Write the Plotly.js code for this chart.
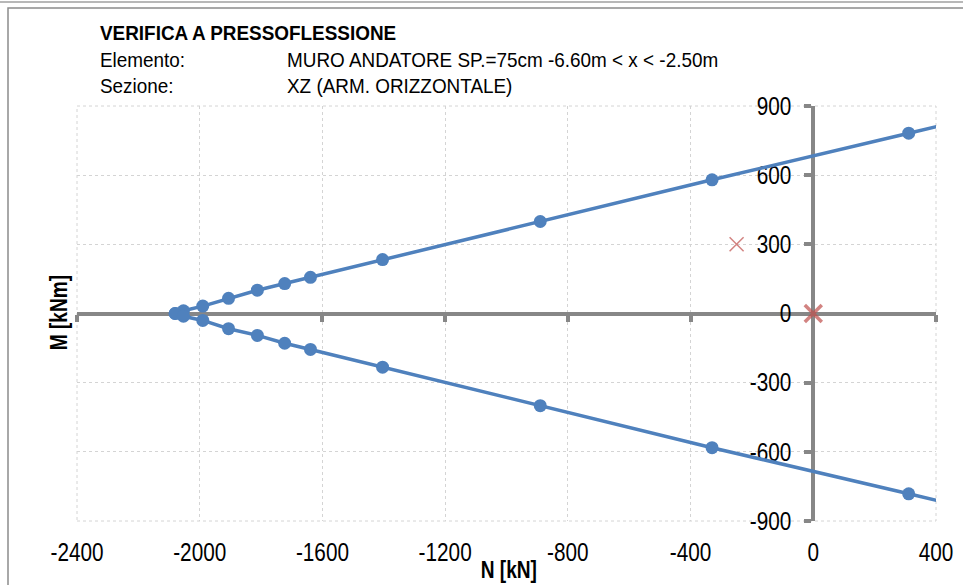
<!DOCTYPE html>
<html><head><meta charset="utf-8">
<script src="https://cdn.plot.ly/plotly-3.0.1.min.js"></script>
<style>html,body{margin:0;padding:0;background:#fff}</style>
</head><body><div id="chart" style="width:963px;height:585px"></div>
<script>
// Interaction domain (N [kN], M [kNm])
const nUpper = [-2080, -2053, -1990, -1906, -1812, -1723, -1639, -1404, -890, -330, 311, 900];
const mUpper = [0, 12, 32, 66, 101, 130, 157, 234, 399, 580, 782, 967];
const nLower = [-2080, -2053, -1990, -1906, -1812, -1723, -1639, -1404, -890, -330, 311, 900];
const mLower = [0, -12, -30, -66, -95, -129, -156, -233, -400, -582, -782, -967];
// Design actions
const nLoads = [-250, 0];
const mLoads = [300, 0];
const xTicks = [-2400, -2000, -1600, -1200, -800, -400, 0, 400];
const yTicks = [-900, -600, -300, 0, 300, 600, 900];

const FONT = '"Liberation Sans", Arial, sans-serif';
const BLUE = '#4F81BD', RED = '#C0504D', AX = '#878787', GRID = '#d4d4d4';
const W = 963, H = 585, L = 77, R = 936, T = 106, B = 521;
const px = x => (x - L) / (R - L);
const py = y => (B - y) / (B - T);

const traces = [
  {x: nUpper, y: mUpper, type: 'scatter', mode: 'lines+markers', cliponaxis: true,
   line: {color: BLUE, width: 3.5}, marker: {color: BLUE, size: 13}, showlegend: false},
  {x: nLower, y: mLower, type: 'scatter', mode: 'lines+markers', cliponaxis: true,
   line: {color: BLUE, width: 3.5}, marker: {color: BLUE, size: 13}, showlegend: false},
  {x: nLoads, y: mLoads, xaxis: 'x2', type: 'scatter', mode: 'markers', cliponaxis: false,
   marker: {symbol: 'x-thin', size: [14, 17], color: RED, line: {color: RED, width: [1.5, 3.5]}}, showlegend: false}
];

const HDR = 21;
const layout = {
  width: W, height: H,
  margin: {l: L, r: W - R, t: T, b: H - B},
  paper_bgcolor: '#fff', plot_bgcolor: '#fff',
  font: {family: FONT, color: '#000', size: 24},
  xaxis: {range: [-2400, 400], tickvals: xTicks, ticktext: xTicks.map(String), showgrid: true,
    gridcolor: GRID, griddash: 'dot', gridwidth: 1, zeroline: false, showline: false, ticks: '',
    ticklabelstandoff: 14, tickfont: {family: FONT, size: 25}},
  xaxis2: {range: [-2400, 400], overlaying: 'x', anchor: 'free', position: 0.5, side: 'bottom',
    showgrid: false, zeroline: false, showline: false,
    ticks: 'outside', ticklen: 7, tickwidth: 4, tickcolor: AX, tickvals: xTicks,
    showticklabels: false, layer: 'below traces'},
  yaxis: {range: [-900, 900], tickvals: yTicks, ticktext: yTicks.map(String), anchor: 'free',
    position: 6 / 7, side: 'left', showgrid: true, gridcolor: GRID, griddash: 'dot', gridwidth: 1,
    zeroline: true, zerolinecolor: AX, zerolinewidth: 4,
    showline: true, linecolor: AX, linewidth: 4, ticks: 'outside', ticklen: 7,
    tickwidth: 4, tickcolor: AX, tickfont: {family: FONT, size: 25}, ticklabelstandoff: 8,
    layer: 'below traces'},
  shapes: [
    {type: 'rect', xref: 'x domain', yref: 'y domain', x0: 0, x1: 1, y0: 0, y1: 1,
     line: {color: GRID, width: 1, dash: 'dot'}, fillcolor: 'rgba(0,0,0,0)', layer: 'below'},
    {type: 'rect', xref: 'paper', yref: 'paper', x0: px(8), x1: px(990), y0: py(8), y1: py(620),
     line: {color: '#8c8c8c', width: 1.5}, fillcolor: 'rgba(0,0,0,0)', layer: 'below'},
    {type: 'line', xref: 'paper', yref: 'paper', x0: px(-10), x1: px(990), y0: py(2), y1: py(2),
     line: {color: '#a0a0a0', width: 1.5}}
  ],
  annotations: [
    {xref: 'paper', yref: 'paper', x: px(98), y: py(33), xanchor: 'left', yanchor: 'middle',
     text: '<b>VERIFICA A PRESSOFLESSIONE</b>', showarrow: false, font: {family: FONT, size: HDR}},
    {xref: 'paper', yref: 'paper', x: px(98), y: py(59), xanchor: 'left', yanchor: 'middle',
     text: 'Elemento:', showarrow: false, font: {family: FONT, size: HDR}},
    {xref: 'paper', yref: 'paper', x: px(98), y: py(85), xanchor: 'left', yanchor: 'middle',
     text: 'Sezione:', showarrow: false, font: {family: FONT, size: HDR}},
    {xref: 'paper', yref: 'paper', x: px(285), y: py(59), xanchor: 'left', yanchor: 'middle',
     text: 'MURO ANDATORE SP.=75cm -6.60m &lt; x &lt; -2.50m', showarrow: false, font: {family: FONT, size: HDR}},
    {xref: 'paper', yref: 'paper', x: px(285), y: py(85), xanchor: 'left', yanchor: 'middle',
     text: 'XZ (ARM. ORIZZONTALE)', showarrow: false, font: {family: FONT, size: HDR}},
    {xref: 'paper', yref: 'paper', x: px(59), y: py(313), xanchor: 'center', yanchor: 'middle',
     text: '<b>M [kNm]</b>', textangle: -90, showarrow: false, font: {family: FONT, size: 23}},
    {xref: 'paper', yref: 'paper', x: px(509), y: py(570), xanchor: 'center', yanchor: 'middle',
     text: '<b>N [kN]</b>', showarrow: false, font: {family: FONT, size: 23}}
  ]
};
// horizontal squeeze per annotation (to imitate the narrow typeface of the original)
const annSqueeze = [[0.9, 'left'], [0.9, 'left'], [0.9, 'left'], [0.9, 'left'], [0.9, 'left'], [0.83, 'center'], [0.83, 'center']];

function squeeze(t, k, mode) {
  const len = t.getComputedTextLength();
  if (!len) return;
  const b0 = t.getBBox();
  t.setAttribute('textLength', (len * k).toFixed(2));
  t.setAttribute('lengthAdjust', 'spacingAndGlyphs');
  const b1 = t.getBBox();
  let dx = 0;
  if (mode === 'left') dx = b0.x - b1.x;
  else if (mode === 'right') dx = (b0.x + b0.width) - (b1.x + b1.width);
  else dx = (b0.x + b0.width / 2) - (b1.x + b1.width / 2);
  if (Math.abs(dx) > 0.01) t.setAttribute('x', (parseFloat(t.getAttribute('x') || '0') + dx).toFixed(2));
}

Plotly.newPlot('chart', traces, layout, {displayModeBar: false, staticPlot: true}).then(gd => {
  gd.querySelectorAll('.xtick text').forEach(t => squeeze(t, 0.83, 'center'));
  gd.querySelectorAll('.ytick text').forEach(t => squeeze(t, 0.83, 'right'));
  gd.querySelectorAll('g.annotation').forEach(g => {
    const i = parseInt(g.getAttribute('data-index'), 10);
    const t = g.querySelector('text.annotation-text') || g.querySelector('text');
    if (t && annSqueeze[i]) squeeze(t, annSqueeze[i][0], annSqueeze[i][1]);
  });
});
</script></body></html>
